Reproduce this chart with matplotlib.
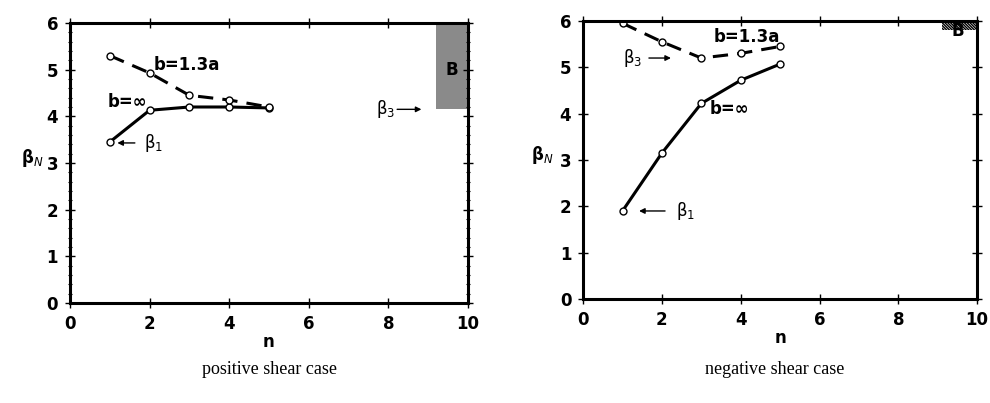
import matplotlib
matplotlib.use("Agg")
import matplotlib.pyplot as plt
from matplotlib.ticker import MultipleLocator
from matplotlib.patches import Rectangle

plt.rcParams['hatch.linewidth'] = 1.0

n = [1, 2, 3, 4, 5]
pos_binf = [3.45, 4.13, 4.20, 4.20, 4.18]
pos_b13 = [5.30, 4.93, 4.45, 4.35, 4.20]
neg_binf = [1.90, 3.15, 4.22, 4.72, 5.07]
neg_b13 = [5.95, 5.55, 5.20, 5.30, 5.45]
pos_region = (9.2, 10.0, 4.15, 6.0)
neg_region = (9.1, 10.0, 5.80, 6.0)
xticks = [0, 2, 4, 6, 8, 10]
yticks = [0, 1, 2, 3, 4, 5, 6]

fig = plt.figure(figsize=(9.9, 4.03), dpi=100)
ax1 = fig.add_axes([0.0707, 0.248, 0.402, 0.695])
ax2 = fig.add_axes([0.589, 0.258, 0.398, 0.690])

def style(ax, minor):
    ax.set_xlim(0, 10)
    ax.set_ylim(0, 6)
    ax.set_xticks(xticks)
    ax.set_yticks(yticks)
    ax.set_xticklabels([str(v) for v in xticks], fontsize=12, fontweight='bold')
    ax.set_yticklabels([str(v) for v in yticks], fontsize=12, fontweight='bold')
    ax.tick_params(direction='inout', length=7, width=1, top=True, right=True, pad=5)
    if minor:
        ax.yaxis.set_minor_locator(MultipleLocator(0.2))
        ax.tick_params(which='minor', direction='inout', length=3, width=0.8, left=True, right=True)
    for s in ax.spines.values():
        s.set_linewidth(2.2)
    ax.set_xlabel('n', fontsize=12, fontweight='bold', labelpad=0)

mk = dict(marker='o', markersize=5, markerfacecolor='white', markeredgecolor='black', markeredgewidth=1, color='black')

# left panel
style(ax1, True)
ax1.plot(n, pos_binf, '-', lw=2.2, **mk)
ax1.plot(n, pos_b13, '--', lw=2.2, dashes=(5, 3), **mk)
x0, x1, y0, y1 = pos_region
ax1.add_patch(Rectangle((x0, y0), x1 - x0, y1 - y0, facecolor='#7d7d7d', alpha=0.9, lw=0))
ax1.text(9.6, 5.0, 'B', fontsize=12, fontweight='bold', ha='center', va='center')
ax1.text(2.1, 5.1, 'b=1.3a', fontsize=12, fontweight='bold', ha='left', va='center')
ax1.text(0.95, 4.3, 'b=∞', fontsize=12, fontweight='bold', ha='left', va='center')
ax1.annotate('', xy=(1.12, 3.43), xytext=(1.7, 3.43),
             arrowprops=dict(arrowstyle='-|>', color='black', lw=1, mutation_scale=8))
ax1.text(1.85, 3.43, 'β$_1$', fontsize=12, ha='left', va='center')
ax1.text(7.7, 4.15, 'β$_3$', fontsize=12, ha='left', va='center')
ax1.annotate('', xy=(8.9, 4.15), xytext=(8.15, 4.15),
             arrowprops=dict(arrowstyle='-|>', color='black', lw=1, mutation_scale=8))
ax1.text(-0.95, 3.1, 'β$_N$', fontsize=12, fontweight='bold', ha='center', va='center')

# right panel
style(ax2, False)
ax2.plot(n, neg_binf, '-', lw=2.2, **mk)
ax2.plot(n, neg_b13, '--', lw=2.2, dashes=(5, 3), **mk)
x0, x1, y0, y1 = neg_region
ax2.add_patch(Rectangle((x0, y0), x1 - x0, y1 - y0, facecolor='white', hatch='\\' * 12,
                        edgecolor='black', lw=0, zorder=1.5))
ax2.text(9.5, 5.78, 'B', fontsize=12, fontweight='bold', ha='center', va='center')
ax2.text(3.3, 5.65, 'b=1.3a', fontsize=12, fontweight='bold', ha='left', va='center')
ax2.text(3.2, 4.1, 'b=∞', fontsize=12, fontweight='bold', ha='left', va='center')
ax2.text(1.0, 5.2, 'β$_3$', fontsize=12, ha='left', va='center')
ax2.annotate('', xy=(2.3, 5.2), xytext=(1.6, 5.2),
             arrowprops=dict(arrowstyle='-|>', color='black', lw=1, mutation_scale=8))
ax2.annotate('', xy=(1.35, 1.9), xytext=(2.15, 1.9),
             arrowprops=dict(arrowstyle='-|>', color='black', lw=1, mutation_scale=8))
ax2.text(2.35, 1.9, 'β$_1$', fontsize=12, ha='left', va='center')
ax2.text(-1.05, 3.1, 'β$_N$', fontsize=12, fontweight='bold', ha='center', va='center')

fig.text(270/990, 1 - 370/403, 'positive shear case', fontsize=13, family='Liberation Serif', ha='center', va='center')
fig.text(775/990, 1 - 370/403, 'negative shear case', fontsize=13, family='Liberation Serif', ha='center', va='center')

fig.savefig('out.png', dpi=100)
